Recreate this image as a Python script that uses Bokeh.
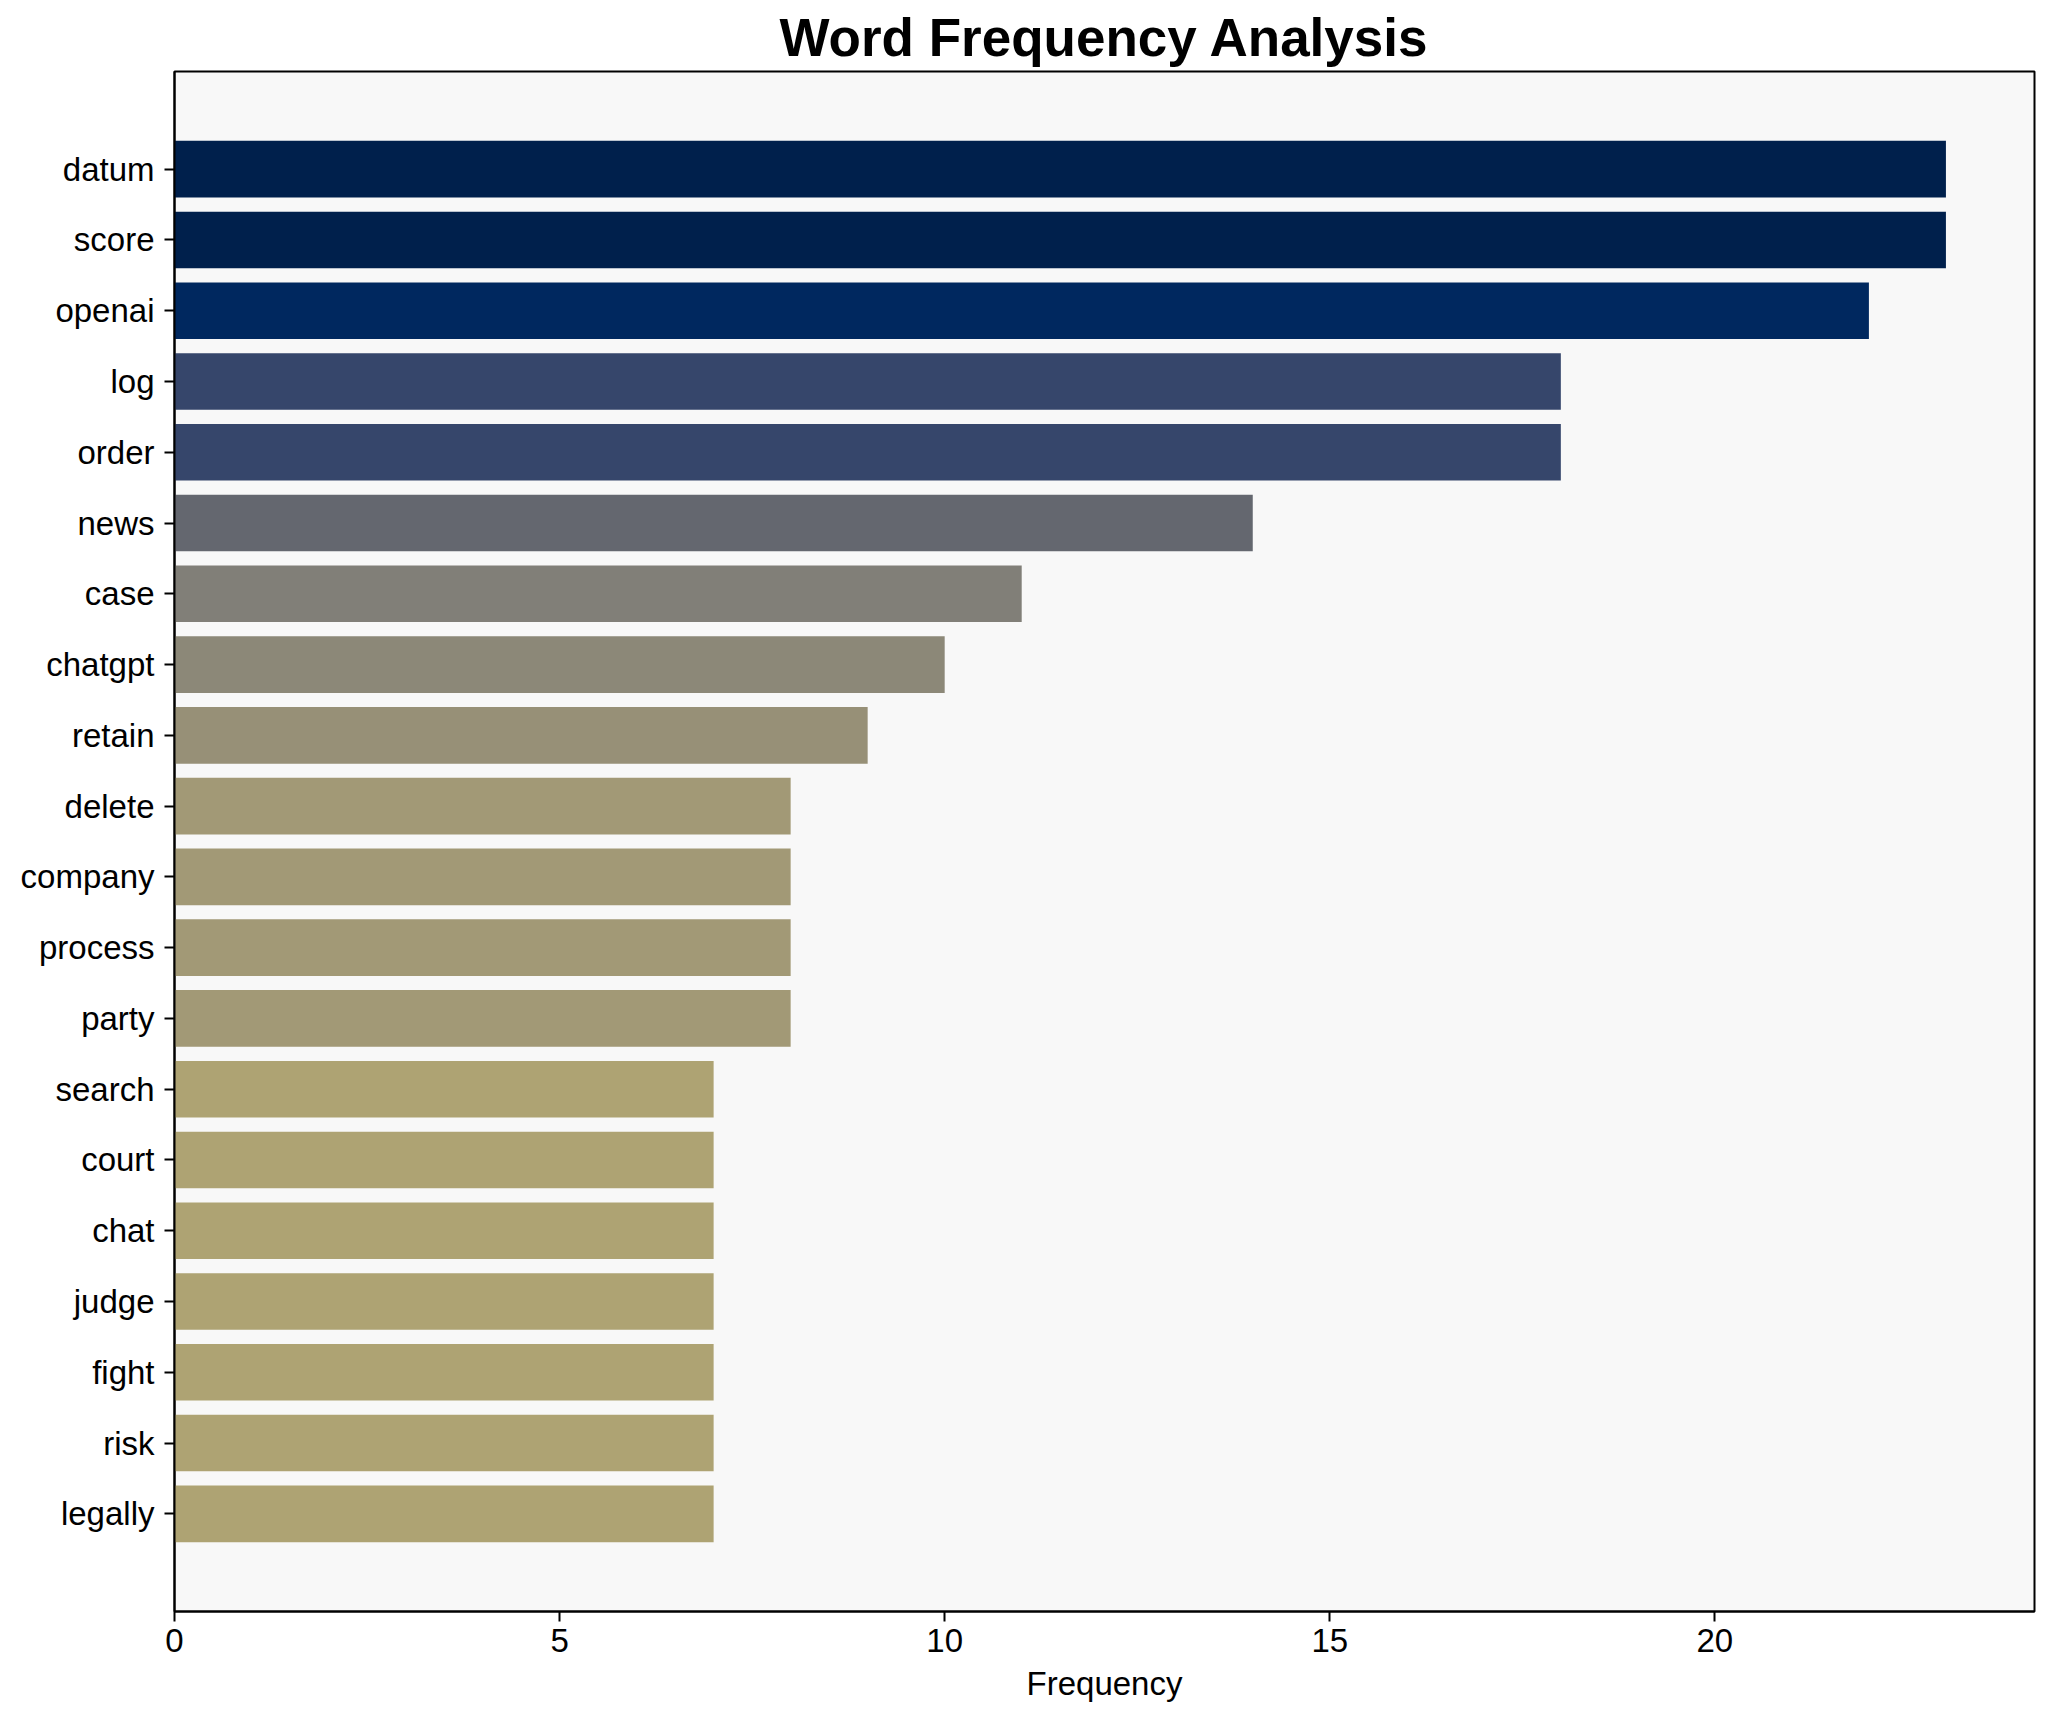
from bokeh.plotting import figure
from bokeh.models import ColumnDataSource, FactorRange, Range1d, FixedTicker, LinearColorMapper
from bokeh.palettes import Cividis256
from bokeh.transform import transform
from bokeh.embed import file_html
from bokeh.resources import INLINE

words = ["datum", "score", "openai", "log", "order", "news", "case", "chatgpt",
         "retain", "delete", "company", "process", "party", "search", "court",
         "chat", "judge", "fight", "risk", "legally"]
counts = [23, 23, 22, 18, 18, 14, 11, 10, 9, 8, 8, 8, 8, 7, 7, 7, 7, 7, 7, 7]
x_ticks = [0, 5, 10, 15, 20]

FONT = "Liberation Sans"

src = ColumnDataSource(dict(word=words, count=counts))
mapper = LinearColorMapper(palette=list(Cividis256[::-1]), low=0, high=max(counts))

yr = FactorRange(factors=words[::-1], range_padding=0.88, range_padding_units="absolute")

p = figure(width=2038, height=1706, y_range=yr, x_range=Range1d(0, max(counts) * 1.05),
           output_backend="svg", toolbar_location=None,
           title="Word Frequency Analysis",
           min_border_left=174, min_border_right=4, min_border_top=71, min_border_bottom=95)

p.hbar(y="word", right="count", left=0, height=0.8, source=src,
       fill_color=transform("count", mapper), line_color=None)

p.background_fill_color = "#F8F8F8"
p.border_fill_color = "white"
p.outline_line_color = "black"
p.outline_line_width = 2
p.grid.visible = False

p.title.text_font = FONT
p.title.text_font_size = "53px"
p.title.text_font_style = "bold"
p.title.align = "center"
p.title.text_color = "black"

p.xaxis.ticker = FixedTicker(ticks=x_ticks)
p.xaxis.axis_label = "Frequency"

for ax in (p.xaxis, p.yaxis):
    ax.major_label_text_font = FONT
    ax.major_label_text_font_size = "33px"
    ax.major_label_text_color = "black"
    ax.axis_label_text_font = FONT
    ax.axis_label_text_font_size = "33px"
    ax.axis_label_text_font_style = "normal"
    ax.axis_label_text_color = "black"
    ax.axis_line_color = "black"
    ax.axis_line_width = 2
    ax.major_tick_line_color = "black"
    ax.major_tick_line_width = 2
    ax.major_tick_out = 10
    ax.major_tick_in = 0
    ax.minor_tick_line_color = None

p.yaxis.major_label_standoff = 10
p.xaxis.major_label_standoff = 7
p.xaxis.axis_label_standoff = 10

open("out.html", "w").write(file_html(p, INLINE))
